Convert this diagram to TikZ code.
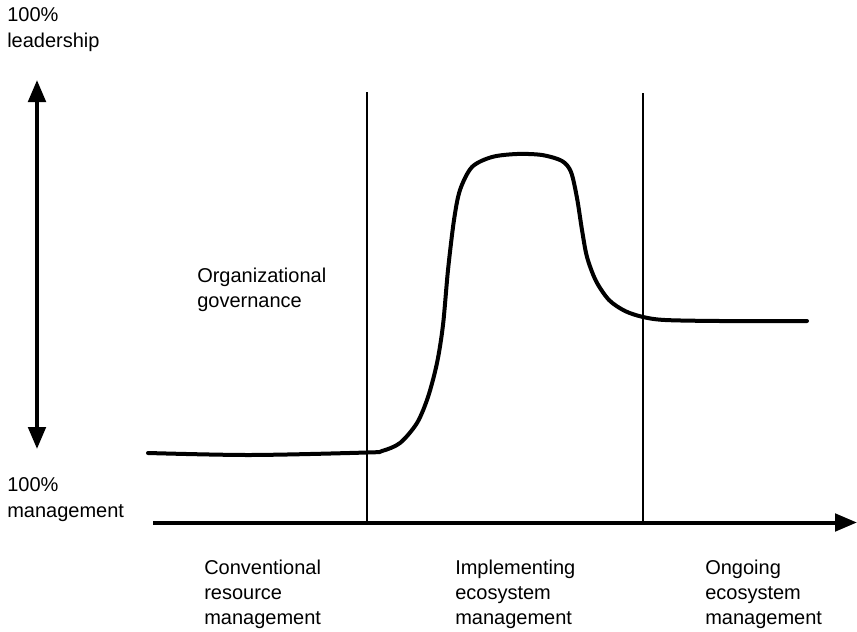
\documentclass[tikz,border=0pt]{standalone}
\usepackage{fontspec}
\setmainfont{Liberation Sans}
\usetikzlibrary{arrows.meta}
\begin{document}
\begin{tikzpicture}[x=0.75pt,y=-0.75pt,
  lbl/.style={anchor=base west, inner sep=0pt, align=left, font=\fontsize{15}{19.5}\selectfont},
  lblb/.style={lbl, font=\fontsize{15}{18.75}\selectfont},
  axisarrow/.style={line width=3pt, -{Triangle[width=13pt,length=16.5pt]}},
  dblarrow/.style={line width=3pt, {Triangle[width=13pt,length=16.5pt]}-{Triangle[width=13pt,length=16.5pt]}},
  divider/.style={line width=1pt},
  curveline/.style={line width=3pt, line cap=round, line join=round}]
\useasboundingbox (0,0) rectangle (857,632);

% axes
\coordinate (xs) at (153,522.5);
\coordinate (xe) at (857,522.5);
\coordinate (ys) at (37,449);
\coordinate (ye) at (37,80);
\draw[axisarrow] (xs) -- (xe);
\draw[dblarrow] (ys) -- (ye);

% dividers
\coordinate (d1t) at (367,92);
\coordinate (d1b) at (367,522);
\coordinate (d2t) at (643,93);
\coordinate (d2b) at (643,522);
\draw[divider] (d1t) -- (d1b);
\draw[divider] (d2t) -- (d2b);

% curve
\draw[curveline] plot[smooth, tension=0.5] coordinates {
 (148,453) (250,455) (367,452.5) (382,451) (400,443) (417,423) (428,397)
 (437,363) (443,325) (448,270) (454,220) (460,190)
 (472,167) (492,157) (517,154) (542,155) (562,161) (571,172)
 (577,198) (582,230) (587,257) (596,281) (609,300) (625,311)
 (643,317) (665,320) (720,321) (807,321)};

% labels (anchored at the baseline of the last line)
\node[lbl] (lead) at (7,47) {100\%\\leadership};
\node[lbl] (mgmt) at (7,517) {100\%\\management};
\node[lblb] (gov) at (197,307) {Organizational\\governance};
\node[lblb] (conv) at (204,624) {Conventional\\resource\\management};
\node[lblb] (impl) at (455,624) {Implementing\\ecosystem\\management};
\node[lblb] (ongo) at (705,624) {Ongoing\\ecosystem\\management};
\end{tikzpicture}
\end{document}
